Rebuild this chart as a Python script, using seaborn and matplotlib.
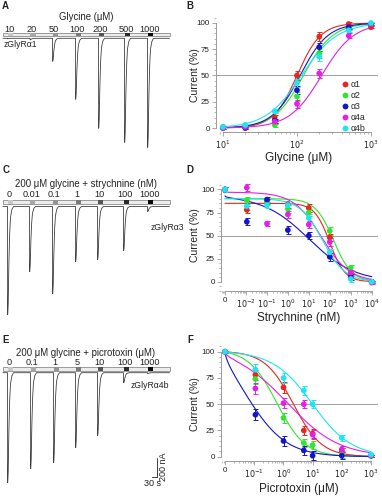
import numpy as np
import pandas as pd
import seaborn as sns
import matplotlib.pyplot as plt
from matplotlib.lines import Line2D
from matplotlib.patches import Rectangle
from matplotlib.ticker import FixedLocator, MultipleLocator, LogLocator, NullFormatter

sns.set_theme(style="ticks")
plt.rcParams["font.family"] = ["Liberation Sans", "DejaVu Sans"]

# ---------------- data ----------------
subunits = ["α1", "α2", "α3", "α4a", "α4b"]
colors = ["#e8251f", "#2ee62e", "#1515c8", "#e61ee6", "#1ee6f0"]

# B: glycine dose response
gly_conc = [10, 20, 50, 100, 200, 500, 1000]
gly_a1 = [1, 1, 10, 50, 87, 99, 96]
gly_a2 = [0, 0, 3, 30, 71, 95, 99]
gly_a3 = [0, 0, 7, 36, 77, 96, 99]
gly_a4a = [0, 1, 6, 23, 52, 88, 99]
gly_a4b = [1, 3, 16, 43, 68, 93, 100]
gly_sem = [0.5, 1, 2, 4, 4, 2, 1]
gly_ec50 = [100, 122, 110, 215, 115]
gly_nh = [2.7, 2.2, 2.3, 2.0, 1.8]

# D: strychnine inhibition (0 plotted at 1e-3)
str_conc = [0, 0.01, 0.1, 1, 10, 100, 1000, 10000]
str_a1 = [100, 78, 87, 84, 80, 48, 9, 0]
str_a2 = [100, 88, 86, 79, 75, 55, 15, 0]
str_a3 = [100, 65, 89, 56, 50, 27, 5, 0]
str_a4a = [100, 102, 63, 73, 62, 43, 10, -1]
str_a4b = [100, 82, 83, 83, 69, 32, 3, 0]
str_sem = [3, 4, 3, 4, 4, 4, 3, 1]
str_top = [85, 90, 93, 97, 90]
str_ic50 = [100, 150, 10, 40, 45]
str_nh = [1.2, 1.0, 0.4, 0.65, 0.8]

# F: picrotoxin inhibition (0 plotted at 1e-2)
ptx_conc = [0, 0.1, 1, 5, 10, 100, 1000]
ptx_a1 = [100, 78, 66, 25, 22, 5, 1]
ptx_a2 = [100, 74, 37, 13, 11, 2, 1]
ptx_a3 = [100, 40, 15, 6, 1, 1, 1]
ptx_a4a = [100, 65, 51, 50, 21, 7, 1]
ptx_a4b = [100, 83, 75, 63, 50, 18, 2]
ptx_sem = [1, 5, 5, 4, 4, 3, 1]
ptx_ic50 = [2.2, 0.62, 0.075, 1.5, 10]
ptx_nh = [0.9, 0.9, 0.65, 0.5, 0.65]

# A, C, E: current traces (onset time in s, peak current in nA)
A_labels = ["10", "20", "50", "100", "200", "500", "1000"]
A_times = [0, 135, 270, 408, 546, 702, 840]
A_peaks = [5, 15, 242, 640, 945, 1092, 1145]
C_labels = ["0", "0.01", "0.1", "1", "10", "100", "1000"]
C_times = [0, 132, 270, 408, 540, 696, 840]
C_peaks = [1134, 683, 914, 578, 557, 462, 53]
E_labels = ["0", "0.1", "1", "5", "10", "100", "1000"]
E_times = [0, 138, 276, 408, 540, 696, 840]
E_peaks = [1155, 1008, 945, 788, 662, 105, 10]
bar_grays = ["#c8c8c8", "#a8a8a8", "#949494", "#7a7a7a", "#555555", "#2a2a2a", "#0a0a0a"]

# response template (relative time s, fraction of peak)
tpl_t = [0, 1, 4, 8, 13, 18, 26, 36]
tpl_f = [0, -1, -0.9, -0.55, -0.25, -0.1, -0.03, 0]

W, H = 382, 500
fig = plt.figure(figsize=(W / 100, H / 100), dpi=100)


def px_axes(l, t, r, b):
    return fig.add_axes([l / W, 1 - b / H, (r - l) / W, (b - t) / H])


def ftext(x, y, s, **kw):
    fig.text(x / W, 1 - y / H, s, **kw)


# ---------------- trace panels ----------------
SPX, NPX = 6.0, 10.5  # s per px, nA per px


def trace_panel(top, bottom, base, bar_y, lab_y, title_y, title, labels, times, peaks, tag, tag_xy):
    ax = px_axes(0, top, 190, bottom)
    ax.set_xlim(-7.5 * SPX, (190 - 7.5) * SPX)
    ax.set_ylim(-(bottom - base) * NPX, (base - top) * NPX)
    ax.axis("off")
    tx, ty = [-4.5 * SPX], [0.0]
    for t0, p in zip(times, peaks):
        tx += [t0 + r for r in tpl_t]
        ty += [f * p for f in tpl_f]
    tx.append(162 * SPX)
    ty.append(0.0)
    df = pd.DataFrame({"t": tx, "I": ty})
    sns.lineplot(data=df, x="t", y="I", sort=False, estimator=None, ax=ax,
                 color="#404040", lw=0.6)
    by = (base - bar_y) * NPX
    ax.add_patch(Rectangle((-4.5 * SPX, by - 1.6 * NPX), 167 * SPX, 3.2 * NPX,
                           fc="#ececec", ec="#8c8c8c", lw=0.6))
    for t0, g, lab in zip(times, bar_grays, labels):
        ax.add_patch(Rectangle((t0, by - 1.8 * NPX), 33, 3.6 * NPX, fc=g, ec="none"))
        ax.text(t0 + 10, (base - lab_y) * NPX, lab, ha="center", va="center",
                fontsize=6.6, color="#222222")
    ax.text(86 * SPX - 7.5 * SPX, (base - title_y) * NPX, title, ha="center",
            va="center", fontsize=6.9, color="#222222")
    ax.text((tag_xy[0] - 7.5) * SPX, (base - tag_xy[1]) * NPX, tag, ha="left",
            va="center", fontsize=6.2, color="#222222")
    return ax


trace_panel(0, 165, 38.3, 34.3, 29.3, 16.7, "Glycine (μM)", A_labels, A_times, A_peaks,
            "zGlyRα1", (4, 44.5))
trace_panel(165, 330, 206.5, 202, 194.3, 184, "200 μM glycine + strychnine (nM)",
            C_labels, C_times, C_peaks, "zGlyRα3", (151, 227))
axE = trace_panel(330, 500, 372.7, 369, 362.7, 353, "200 μM glycine + picrotoxin (μM)",
                  E_labels, E_times, E_peaks, "zGlyRα4b", (131, 385))

# scale bar
sb_t, sb_y = (157 - 7.5) * SPX, (372.7 - 477) * NPX
axE.plot([sb_t - 30, sb_t, sb_t], [sb_y, sb_y, sb_y + 200], color="#404040", lw=0.7)
ftext(164, 467, "200 nA", rotation=90, ha="center", va="center", fontsize=6.5, color="#222222")
ftext(152, 484, "30 s", ha="center", va="center", fontsize=6.5, color="#222222")


# ---------------- dose-response panels ----------------
def style_dose(ax, xb, ticks, ticklabels):
    ax.set_xscale("log")
    sns.despine(ax=ax)
    for s in ["left", "bottom"]:
        ax.spines[s].set_color("#9a9a9a")
        ax.spines[s].set_linewidth(0.7)
    ax.spines["left"].set_bounds(0, 100)
    ax.spines["bottom"].set_bounds(*xb)
    ax.yaxis.set_major_locator(FixedLocator([0, 25, 50, 75, 100]))
    ax.yaxis.set_minor_locator(MultipleLocator(5))
    ax.xaxis.set_major_locator(FixedLocator(ticks))
    ax.set_xticklabels(ticklabels)
    ax.xaxis.set_minor_locator(LogLocator(base=10, subs=np.arange(2, 10), numticks=20))
    ax.xaxis.set_minor_formatter(NullFormatter())
    ax.tick_params(which="major", length=3, width=0.6, color="#9a9a9a",
                   labelsize=5.8, labelcolor="#222222", pad=1.5)
    ax.tick_params(which="minor", length=1.6, width=0.5, color="#9a9a9a")
    ax.set_xlabel("")
    ax.set_ylabel("")
    ax.axhline(50, color="#222222", lw=0.6, ls=(0, (1.2, 1.2)), zorder=1)


def plot_points(ax, xs, series, sem):
    for ys, c in zip(series, colors):
        ax.errorbar(xs, ys, yerr=sem, fmt="none", ecolor=c, elinewidth=0.7,
                    capsize=1.8, capthick=0.7, zorder=2)
        sns.scatterplot(x=xs, y=ys, ax=ax, color=c, s=17, edgecolor="none", zorder=3)


# B
axB = px_axes(216, 15, 378, 132)
axB.set_xlim(10 ** 0.905, 10 ** 3.095)
axB.set_ylim(-3.8, 107.6)
gx = np.logspace(1, 3, 200)
for ec, nh, c in zip(gly_ec50, gly_nh, colors):
    sns.lineplot(x=gx, y=100 / (1 + (ec / gx) ** nh), ax=axB, color=c, lw=0.8)
plot_points(axB, gly_conc, [gly_a1, gly_a2, gly_a3, gly_a4a, gly_a4b], gly_sem)
style_dose(axB, (10, 1000), [10, 100, 1000], ["$10^1$", "$10^2$", "$10^3$"])
handles = [Line2D([], [], ls="none", marker="o", ms=4.2, mfc=c, mec="none") for c in colors]
axB.legend(handles, subunits, loc="upper left", bbox_to_anchor=(0.745, 0.48),
           frameon=False, fontsize=6.3, handletextpad=0.1, labelspacing=0.22,
           handlelength=1.0, borderpad=0)

# D
off_d = 1e-3
axD = px_axes(221, 183, 378, 291)
axD.set_xlim(10 ** -3.19, 10 ** 4.30)
axD.set_ylim(-10, 107)
dx = np.logspace(-3, 4, 300)
for top, ic, nh, c in zip(str_top, str_ic50, str_nh, colors):
    sns.lineplot(x=dx, y=top / (1 + ((dx - off_d) / ic) ** nh), ax=axD, color=c, lw=0.8)
plot_points(axD, [v + off_d for v in str_conc],
            [str_a1, str_a2, str_a3, str_a4a, str_a4b], str_sem)
style_dose(axD, (1e-3, 1e4), [1e-3, 1e-2, 1e-1, 1, 10, 100, 1e3, 1e4],
           ["0", "$10^{-2}$", "$10^{-1}$", "$10^0$", "$10^1$", "$10^2$", "$10^3$", "$10^4$"])

# F
off_f = 1e-2
axF = px_axes(221, 345, 378, 461)
axF.set_xlim(10 ** -2.137, 10 ** 3.24)
axF.set_ylim(-4.1, 106.4)
fx = np.logspace(-2, 3, 300)
for ic, nh, c in zip(ptx_ic50, ptx_nh, colors):
    sns.lineplot(x=fx, y=100 / (1 + ((fx - off_f) / ic) ** nh), ax=axF, color=c, lw=0.8)
plot_points(axF, [v + off_f for v in ptx_conc],
            [ptx_a1, ptx_a2, ptx_a3, ptx_a4a, ptx_a4b], ptx_sem)
style_dose(axF, (1e-2, 1e3), [1e-2, 1e-1, 1, 10, 100, 1e3],
           ["0", "$10^{-1}$", "$10^0$", "$10^1$", "$10^2$", "$10^3$"])

# axis titles
for ycen in [75, 235, 404]:
    ftext(195, ycen, "Current (%)", rotation=90, ha="center", va="center", fontsize=7.5,
          color="#222222")
ftext(299, 158, "Glycine (μM)", ha="center", va="center", fontsize=8.5, color="#222222")
ftext(299, 318, "Strychnine (nM)", ha="center", va="center", fontsize=8.5, color="#222222")
ftext(299, 489, "Picrotoxin (μM)", ha="center", va="center", fontsize=8.5, color="#222222")

# panel letters
for lab, x, y in [("A", 5, 6), ("B", 190, 6), ("C", 6, 170), ("D", 190, 170),
                  ("E", 6, 340), ("F", 190, 340)]:
    ftext(x, y, lab, ha="center", va="center", fontsize=7, fontweight="bold", color="#222222")

fig.savefig("out.png", dpi=100)
